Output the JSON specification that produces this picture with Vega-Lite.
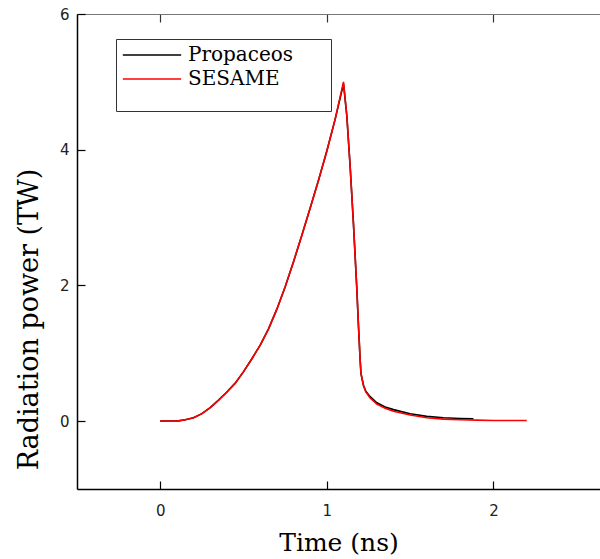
{
  "$schema": "https://vega.github.io/schema/vega-lite/v6.json",
  "width": 523,
  "height": 475,
  "autosize": {"type": "none"},
  "padding": {"left": 77, "top": 14, "right": 0, "bottom": 70},
  "background": "white",
  "config": {"view": {"stroke": null}, "axis": {"grid": false}},
  "data": {"values": [
    {"model": "Propaceos", "t": 0, "p": 0},
    {"model": "Propaceos", "t": 0.1, "p": 0.0},
    {"model": "Propaceos", "t": 0.15, "p": 0.02},
    {"model": "Propaceos", "t": 0.2, "p": 0.05},
    {"model": "Propaceos", "t": 0.25, "p": 0.11},
    {"model": "Propaceos", "t": 0.3, "p": 0.2},
    {"model": "Propaceos", "t": 0.35, "p": 0.31},
    {"model": "Propaceos", "t": 0.4, "p": 0.43},
    {"model": "Propaceos", "t": 0.45, "p": 0.56},
    {"model": "Propaceos", "t": 0.5, "p": 0.73},
    {"model": "Propaceos", "t": 0.55, "p": 0.92},
    {"model": "Propaceos", "t": 0.6, "p": 1.12},
    {"model": "Propaceos", "t": 0.65, "p": 1.36},
    {"model": "Propaceos", "t": 0.7, "p": 1.65},
    {"model": "Propaceos", "t": 0.75, "p": 1.98},
    {"model": "Propaceos", "t": 0.8, "p": 2.35},
    {"model": "Propaceos", "t": 0.85, "p": 2.74},
    {"model": "Propaceos", "t": 0.9, "p": 3.14},
    {"model": "Propaceos", "t": 0.95, "p": 3.55},
    {"model": "Propaceos", "t": 1.0, "p": 3.98},
    {"model": "Propaceos", "t": 1.05, "p": 4.45},
    {"model": "Propaceos", "t": 1.1, "p": 4.97},
    {"model": "Propaceos", "t": 1.12, "p": 4.5},
    {"model": "Propaceos", "t": 1.14, "p": 3.75},
    {"model": "Propaceos", "t": 1.16, "p": 2.9},
    {"model": "Propaceos", "t": 1.18, "p": 1.95},
    {"model": "Propaceos", "t": 1.19, "p": 1.4},
    {"model": "Propaceos", "t": 1.2, "p": 0.9},
    {"model": "Propaceos", "t": 1.205, "p": 0.7},
    {"model": "Propaceos", "t": 1.22, "p": 0.53},
    {"model": "Propaceos", "t": 1.234, "p": 0.44},
    {"model": "Propaceos", "t": 1.26, "p": 0.36},
    {"model": "Propaceos", "t": 1.3, "p": 0.27},
    {"model": "Propaceos", "t": 1.35, "p": 0.21},
    {"model": "Propaceos", "t": 1.4, "p": 0.17},
    {"model": "Propaceos", "t": 1.5, "p": 0.11},
    {"model": "Propaceos", "t": 1.6, "p": 0.07},
    {"model": "Propaceos", "t": 1.7, "p": 0.05},
    {"model": "Propaceos", "t": 1.8, "p": 0.04},
    {"model": "Propaceos", "t": 1.88, "p": 0.035},
    {"model": "SESAME", "t": 0, "p": 0},
    {"model": "SESAME", "t": 0.1, "p": 0.0},
    {"model": "SESAME", "t": 0.15, "p": 0.02},
    {"model": "SESAME", "t": 0.2, "p": 0.05},
    {"model": "SESAME", "t": 0.25, "p": 0.11},
    {"model": "SESAME", "t": 0.3, "p": 0.2},
    {"model": "SESAME", "t": 0.35, "p": 0.31},
    {"model": "SESAME", "t": 0.4, "p": 0.43},
    {"model": "SESAME", "t": 0.45, "p": 0.56},
    {"model": "SESAME", "t": 0.5, "p": 0.73},
    {"model": "SESAME", "t": 0.55, "p": 0.92},
    {"model": "SESAME", "t": 0.6, "p": 1.12},
    {"model": "SESAME", "t": 0.65, "p": 1.36},
    {"model": "SESAME", "t": 0.7, "p": 1.65},
    {"model": "SESAME", "t": 0.75, "p": 1.98},
    {"model": "SESAME", "t": 0.8, "p": 2.35},
    {"model": "SESAME", "t": 0.85, "p": 2.74},
    {"model": "SESAME", "t": 0.9, "p": 3.14},
    {"model": "SESAME", "t": 0.95, "p": 3.55},
    {"model": "SESAME", "t": 1.0, "p": 3.98},
    {"model": "SESAME", "t": 1.05, "p": 4.45},
    {"model": "SESAME", "t": 1.1, "p": 5.0},
    {"model": "SESAME", "t": 1.12, "p": 4.5},
    {"model": "SESAME", "t": 1.14, "p": 3.75},
    {"model": "SESAME", "t": 1.16, "p": 2.9},
    {"model": "SESAME", "t": 1.18, "p": 1.95},
    {"model": "SESAME", "t": 1.19, "p": 1.4},
    {"model": "SESAME", "t": 1.2, "p": 0.9},
    {"model": "SESAME", "t": 1.205, "p": 0.7},
    {"model": "SESAME", "t": 1.22, "p": 0.52},
    {"model": "SESAME", "t": 1.234, "p": 0.43},
    {"model": "SESAME", "t": 1.26, "p": 0.34},
    {"model": "SESAME", "t": 1.3, "p": 0.25},
    {"model": "SESAME", "t": 1.35, "p": 0.19},
    {"model": "SESAME", "t": 1.4, "p": 0.145},
    {"model": "SESAME", "t": 1.5, "p": 0.09},
    {"model": "SESAME", "t": 1.6, "p": 0.05},
    {"model": "SESAME", "t": 1.7, "p": 0.03},
    {"model": "SESAME", "t": 1.8, "p": 0.02},
    {"model": "SESAME", "t": 1.9, "p": 0.015},
    {"model": "SESAME", "t": 2.0, "p": 0.01},
    {"model": "SESAME", "t": 2.1, "p": 0.01},
    {"model": "SESAME", "t": 2.2, "p": 0.01}
  ]},
  "layer": [
    {
      "mark": {"type": "line", "strokeWidth": 1.6},
      "encoding": {
        "x": {
          "field": "t", "type": "quantitative",
          "scale": {"domain": [-0.5, 2.64], "nice": false, "zero": false},
          "axis": {
            "orient": "bottom", "values": [0, 1, 2], "format": "d",
            "domainColor": "black", "domainWidth": 1.5,
            "tickColor": "black", "tickWidth": 1.2, "tickSize": -8,
            "labelFont": "DejaVu Sans", "labelFontSize": 15, "labelColor": "#222",
            "labelPadding": 22,
            "title": "Time (ns)", "titleFont": "DejaVu Serif", "titleFontSize": 25,
            "titleFontWeight": "normal", "titleColor": "black", "titlePadding": 12
          }
        },
        "y": {
          "field": "p", "type": "quantitative",
          "scale": {"domain": [-1, 6], "nice": false, "zero": false},
          "axis": {
            "values": [0, 2, 4, 6], "format": "d",
            "domainColor": "black", "domainWidth": 1.5,
            "tickColor": "black", "tickWidth": 1.2, "tickSize": -8,
            "labelFont": "DejaVu Sans", "labelFontSize": 15, "labelColor": "#222",
            "labelPadding": 16,
            "title": "Radiation power (TW)", "titleFont": "DejaVu Serif", "titleFontSize": 27,
            "titleFontWeight": "normal", "titleColor": "black", "titlePadding": 16,
            "titleY": 305
          }
        },
        "color": {
          "field": "model", "type": "nominal",
          "scale": {"domain": ["Propaceos", "SESAME"], "range": ["black", "#ff0000"]},
          "legend": {
            "orient": "none", "legendX": 39, "legendY": 25,
            "title": "\u2800\u00a0\u00a0\u00a0\u00a0\u00a0\u00a0\u00a0\u00a0\u00a0\u00a0\u00a0\u00a0\u00a0\u00a0\u00a0\u00a0\u00a0\u00a0\u00a0\u00a0\u00a0\u00a0\u00a0\u00a0\u00a0\u00a0\u00a0\u00a0\u00a0\u00a0\u00a0\u00a0\u00a0\u00a0\u00a0\u00a0\u00a0\u2800",
            "titleOrient": "bottom", "titleFont": "DejaVu Sans", "titleFontSize": 14, "titlePadding": 2,
            "titleLimit": 400,
            "strokeColor": "#333", "fillColor": "white", "padding": 6,
            "symbolType": "stroke", "symbolSize": 3400, "symbolStrokeWidth": 1.6,
            "clipHeight": 20,
            "labelFont": "DejaVu Serif", "labelFontSize": 20, "labelColor": "black",
            "labelOffset": 6, "rowPadding": 4, "labelLimit": 400
          }
        }
      }
    },
    {
      "mark": {"type": "line", "opacity": 0},
      "encoding": {
        "x": {
          "field": "t", "type": "quantitative",
          "axis": {
            "orient": "top", "values": [0, 1, 2], "labels": false, "title": null,
            "domainColor": "#777", "domainWidth": 1,
            "tickColor": "#333", "tickWidth": 1.2, "tickSize": -8
          }
        },
        "y": {"field": "p", "type": "quantitative"},
        "detail": {"field": "model"}
      }
    }
  ],
  "resolve": {"axis": {"x": "independent"}}
}
